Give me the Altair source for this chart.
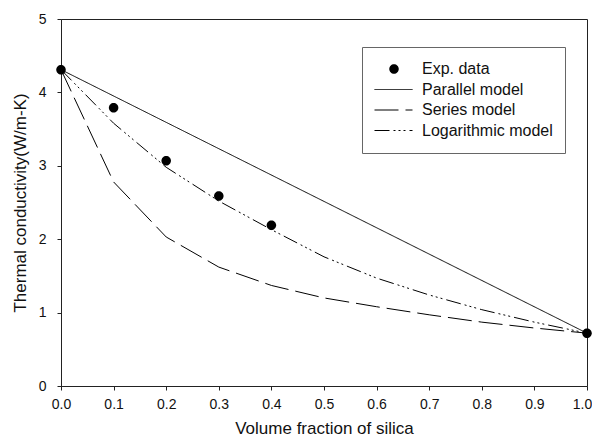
import altair as alt
import pandas as pd

# Data
exp_x = [0.0, 0.1, 0.2, 0.3, 0.4, 1.0]
exp_y = [4.31, 3.79, 3.07, 2.59, 2.19, 0.72]

par_x = [0.0, 1.0]
par_y = [4.31, 0.72]

model_x = [0.0, 0.1, 0.2, 0.3, 0.4, 0.5, 0.6, 0.7, 0.8, 0.9, 1.0]
series_y = [4.31, 2.78, 2.03, 1.62, 1.37, 1.20, 1.08, 0.97, 0.87, 0.79, 0.72]
log_y = [4.31, 3.58, 2.98, 2.52, 2.13, 1.76, 1.47, 1.24, 1.04, 0.87, 0.72]

names = ["Exp. data", "Parallel model", "Series model", "Logarithmic model"]

rows = []
for x, y in zip(exp_x, exp_y):
    rows.append({"x": x, "y": y, "series": names[0]})
for x, y in zip(par_x, par_y):
    rows.append({"x": x, "y": y, "series": names[1]})
for x, y in zip(model_x, series_y):
    rows.append({"x": x, "y": y, "series": names[2]})
for x, y in zip(model_x, log_y):
    rows.append({"x": x, "y": y, "series": names[3]})
df = pd.DataFrame(rows)

FONT = "Liberation Sans"
circle = "M-0.25,0A0.25,0.25 0 1,1 0.25,0A0.25,0.25 0 1,1 -0.25,0Z"

LEG = dict(title=None, orient="none", legendX=301, legendY=28,
           padding=12, rowPadding=0.5, clipHeight=20, symbolSize=1444,
           labelFont=FONT, labelFontSize=16, labelOffset=9)

x_enc = alt.X("x:Q", title="Volume fraction of silica",
              scale=alt.Scale(domain=[0, 1], nice=False),
              axis=alt.Axis(values=[i / 10 for i in range(11)], format=".1f",
                            grid=False, tickSize=4, labelPadding=7,
                            labelFlush=False,
                            labelOffset={"condition": {"test": "datum.value == 1",
                                                       "value": -5},
                                         "value": 0},
                            titleBaseline="alphabetic", titlePadding=22))
y_enc = alt.Y("y:Q", title="Thermal conductivity(W/m-K)",
              scale=alt.Scale(domain=[0, 5], nice=False),
              axis=alt.Axis(values=[0, 1, 2, 3, 4, 5], grid=False,
                            tickSize=4, labelPadding=11, titlePadding=9))

dash_scale = alt.Scale(domain=names,
                       range=[[0, 100], [1, 0], [24, 7],
                              [15, 4, 2, 3, 2, 3, 2, 4]])

lines = alt.Chart(df).transform_filter(
    alt.datum.series != names[0]
).mark_line(color="black", strokeWidth=1).encode(
    x=x_enc, y=y_enc,
    strokeDash=alt.StrokeDash(
        "series:N", scale=dash_scale,
        legend=alt.Legend(**LEG, fillColor="white", strokeColor="#666666",
                          symbolStrokeWidth=1, symbolStrokeColor="black",
                          symbolType="stroke", labelColor="#111111")),
)

points = alt.Chart(df).transform_filter(
    alt.datum.series == names[0]
).mark_point(filled=True, opacity=1, size=1444).encode(
    x=x_enc, y=y_enc,
    fill=alt.value("black"),
    shape=alt.Shape("series:N",
                    scale=alt.Scale(domain=[names[0]], range=[circle]),
                    legend=alt.Legend(**LEG, symbolFillColor="black",
                                      symbolOpacity=1, labelOpacity=0,
                                      zindex=1)),
)

chart = alt.layer(lines, points).resolve_legend(
    shape="independent", strokeDash="independent"
).properties(
    width=526, height=367,
    autosize=alt.AutoSizeParams(type="none"),
    padding={"left": 53, "top": 11, "right": 5, "bottom": 50},
).configure_view(
    stroke="#222222", strokeWidth=1
).configure_axis(
    domainColor="#222222", tickColor="#222222",
    labelFont=FONT, labelFontSize=14, labelColor="#111111",
    titleFont=FONT, titleFontSize=17, titleFontWeight="normal",
    titleColor="#111111",
)

chart.save("out.html", embed_options={"renderer": "svg", "actions": False})
